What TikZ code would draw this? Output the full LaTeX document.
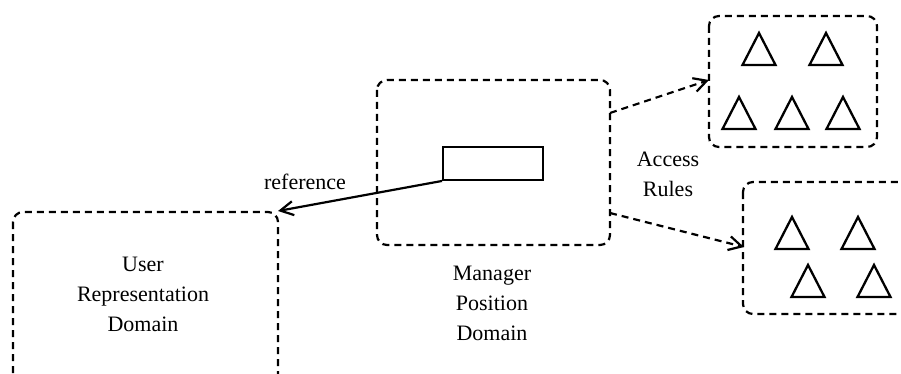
\documentclass[tikz,border=0pt]{standalone}
\usepackage{fontspec}
\setmainfont{Liberation Serif}
\usetikzlibrary{arrows.meta}
\begin{document}
\begin{tikzpicture}[x=1pt,y=-1pt,
  dombox/.style={draw,line width=2.2pt,dash pattern=on 7pt off 5pt,rounded corners=10pt},
  tri/.style={draw,line width=2.3pt,line join=miter},
  lbl/.style={font=\fontsize{22}{30}\selectfont,align=center,inner sep=0pt},
  darrow/.style={line width=2.2pt,dash pattern=on 7pt off 5pt,-{Straight Barb[length=13pt,width=14pt,line width=2.2pt]}},
  sarrow/.style={line width=2.2pt,-{Straight Barb[length=13pt,width=14pt,line width=2.2pt]}}]
\useasboundingbox (0,0) rectangle (901,374);
\clip (0,0) rectangle (901,374);

% domains
\draw[dombox] (13,212) rectangle (278,400);
\draw[dombox] (377,80) rectangle (610,245);
\draw[dombox] (709,16) rectangle (877,147);
\draw[dombox] (743,182) rectangle (940,314);

% named anchors on the domain borders
\coordinate (userTR) at (278,211);
\coordinate (mgrR1) at (610,113);
\coordinate (mgrR2) at (610,213);
\coordinate (ruleA) at (709,80);
\coordinate (ruleB) at (744,247);

% position object inside the manager domain
\node[draw,line width=1.9pt,minimum width=100pt,minimum height=33pt,inner sep=0pt] (pos) at (493,163.5) {};

% access-rule triangles
\foreach \cx/\ay in {759/33, 826/33, 739/97, 792/97, 843/97, 792/217, 858/217, 808/265, 874/265}
  \draw[tri] (\cx,\ay) -- (\cx+16.5,\ay+32) -- (\cx-16.5,\ay+32) -- cycle;

% connectors
\draw[sarrow] (pos.south west) -- (userTR);
\draw[darrow] (mgrR1) -- (ruleA);
\draw[darrow] (mgrR2) -- (ruleB);

% labels
\node[lbl] (reflbl) at (305,182) {reference};
\node[lbl] (userlbl) at (143,294) {User\\Representation\\Domain};
\node[lbl] (mgrlbl) at (492,303) {Manager\\Position\\Domain};
\node[lbl] (acclbl) at (668,174) {Access\\Rules};
\end{tikzpicture}
\end{document}
